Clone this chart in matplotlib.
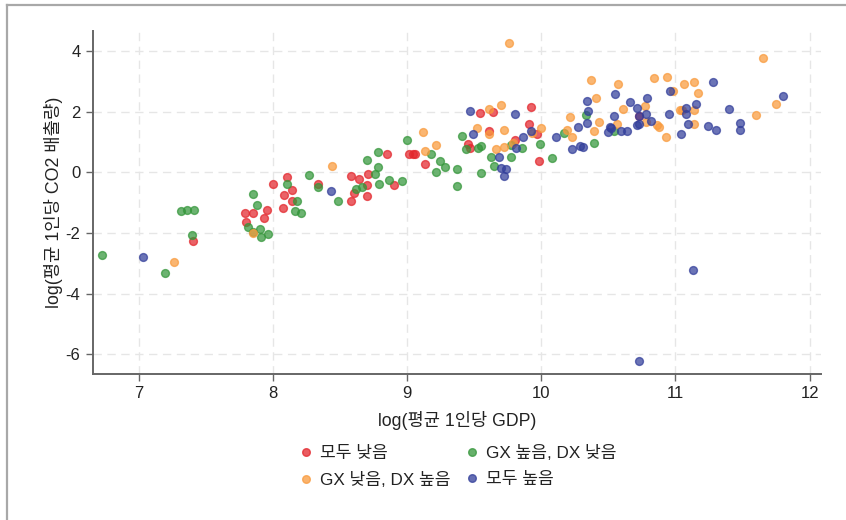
import matplotlib
matplotlib.use("Agg")
import matplotlib.pyplot as plt
from matplotlib.lines import Line2D

plt.rcParams['font.family'] = ['Liberation Sans', 'Noto Sans CJK KR', 'DejaVu Sans']
plt.rcParams['axes.unicode_minus'] = False

# ---- data ----
labels = ['모두 낮음', 'GX 낮음, DX 높음', 'GX 높음, DX 낮음', '모두 높음']

red_x = [7.40, 7.79, 7.85, 7.80, 7.95, 7.93, 8.00, 8.10, 8.08, 8.14, 8.14, 8.07, 8.33, 8.58, 8.64,
         8.60, 8.58, 8.71, 8.70, 8.70, 8.85, 8.90, 9.01, 9.04, 9.06, 9.13, 9.54, 9.64, 9.92, 9.61,
         9.45, 9.47, 9.80, 9.91, 9.97, 9.98, 10.73]
red_y = [-2.25, -1.35, -1.35, -1.62, -1.25, -1.49, -0.37, -0.15, -0.75, -0.59, -0.95, -1.18, -0.39, -0.12, -0.22,
         -0.69, -0.96, -0.07, -0.42, -0.78, 0.59, -0.40, 0.59, 0.59, 0.61, 0.26, 1.95, 1.98, 2.14, 1.38,
         0.92, 0.81, 1.07, 1.60, 1.27, 0.39, 1.85]

green_x = [6.725, 7.195, 7.31, 7.36, 7.41, 7.39, 7.85, 7.88, 7.81, 7.845, 7.90, 7.91, 7.96, 8.10, 8.18,
           8.16, 8.21, 8.27, 8.33, 8.48, 8.62, 8.66, 8.70, 8.755, 8.78, 8.78, 8.79, 8.86, 8.96, 9.00,
           9.18, 9.24, 9.28, 9.21, 9.37, 9.37, 9.41, 9.44, 9.53, 9.55, 9.77, 9.855, 9.99, 9.625, 9.77,
           9.645, 9.55, 10.08, 10.17, 10.33, 10.39, 10.54]
green_y = [-2.74, -3.32, -1.27, -1.24, -1.24, -2.05, -0.70, -1.06, -1.81, -1.95, -1.87, -2.14, -2.03, -0.37, -0.93,
           -1.26, -1.33, -0.10, -0.48, -0.94, -0.55, -0.47, 0.42, -0.07, 0.66, 0.17, -0.37, -0.25, -0.30, 1.07,
           0.59, 0.39, 0.17, 0.01, 0.10, -0.45, 1.20, 0.78, 0.81, 0.86, 0.91, 0.79, 0.93, 0.50, 0.52,
           0.22, -0.02, 0.46, 1.31, 1.89, 0.97, 1.35]

orange_x = [7.26, 7.85, 8.44, 9.12, 9.13, 9.21, 9.61, 9.70, 9.52, 9.61, 9.72, 9.66, 9.72, 9.79, 9.93,
            10.00, 9.76, 10.19, 10.21, 10.23, 10.37, 10.41, 10.39, 10.43, 10.57, 10.61, 10.77, 10.56, 10.78, 10.86,
            10.88, 10.93, 10.84, 10.94, 10.98, 11.06, 11.14, 11.17, 11.03, 11.05, 11.14, 11.14, 11.60, 11.65, 11.75]
orange_y = [-2.96, -2.01, 0.20, 1.32, 0.72, 0.90, 2.09, 2.21, 1.45, 1.25, 1.41, 0.78, 0.84, 0.96, 1.30,
            1.45, 4.26, 1.40, 1.81, 1.18, 3.05, 2.44, 1.37, 1.65, 2.91, 2.09, 2.20, 1.60, 1.67, 1.57,
            1.49, 1.15, 3.10, 3.15, 2.69, 2.91, 2.98, 2.63, 2.07, 2.07, 2.07, 1.58, 1.89, 3.77, 2.25]

blue_x = [7.03, 8.43, 9.47, 9.80, 9.49, 9.81, 9.865, 9.92, 9.68, 9.70, 9.735, 9.72, 10.11, 10.27, 10.23,
          10.29, 10.31, 10.34, 10.34, 10.35, 10.55, 10.545, 10.66, 10.71, 10.79, 10.73, 10.78, 10.51, 10.52, 10.50,
          10.595, 10.64, 10.71, 10.73, 10.82, 10.96, 11.28, 10.95, 11.08, 11.15, 11.075, 11.09, 11.04, 11.24, 11.30,
          11.40, 11.48, 11.48, 11.80, 11.13, 10.73]
blue_y = [-2.78, -0.60, 2.03, 1.91, 1.28, 0.79, 1.16, 1.38, 0.52, 0.14, 0.11, -0.11, 1.15, 1.50, 0.76,
          0.87, 0.82, 1.62, 2.35, 2.02, 2.57, 1.85, 2.33, 2.11, 2.46, 1.85, 1.92, 1.51, 1.47, 1.32,
          1.38, 1.35, 1.56, 1.60, 1.68, 2.69, 2.97, 1.94, 2.12, 2.24, 1.92, 1.58, 1.28, 1.53, 1.41,
          2.09, 1.62, 1.40, 2.53, -3.21, -6.23]

x_ticks = [7, 8, 9, 10, 11, 12]
y_ticks = [-6, -4, -2, 0, 2, 4]
x_label = 'log(평균 1인당 GDP)'
y_label = 'log(평균 1인당 CO2 배출량)'

colors = {'red': '#e3262c', 'green': '#34963a', 'orange': '#f99a3c', 'blue': '#323e9a'}

# ---- figure ----
fig = plt.figure(figsize=(8.46, 5.2), dpi=100)
ax = fig.add_axes([0.1099, 0.2817, 0.8605, 0.6587])

ax.set_xlim(6.655, 12.085)
ax.set_ylim(-6.63, 4.66)

ax.set_xticks(x_ticks)
ax.set_yticks(y_ticks)
ax.grid(True, color='#e6e6e6', linestyle=(0, (6, 4)), linewidth=1.0)
ax.set_axisbelow(True)

series = [(red_x, red_y, colors['red']),
          (green_x, green_y, colors['green']),
          (orange_x, orange_y, colors['orange']),
          (blue_x, blue_y, colors['blue'])]
for xs, ys, c in series:
    ax.scatter(xs, ys, s=32, facecolor=c, edgecolor=c, alpha=0.72, linewidth=1.0, zorder=3)

for side in ['top', 'right']:
    ax.spines[side].set_visible(False)
for side in ['left', 'bottom']:
    ax.spines[side].set_color('#666666')
    ax.spines[side].set_linewidth(1.4)

ax.tick_params(axis='both', direction='out', length=5, width=1.0, color='#666666',
               labelsize=12, labelcolor='#222222', pad=4)
ax.set_xlabel(x_label, fontsize=12.7, color='#222222', labelpad=7)
ax.set_ylabel(y_label, fontsize=12.8, color='#222222', labelpad=2)

handles = [Line2D([], [], marker='o', linestyle='none', markersize=5.5,
                  markerfacecolor=c, markeredgecolor=c, alpha=0.75)
           for c in [colors['red'], colors['orange'], colors['green'], colors['blue']]]
leg = ax.legend(handles, labels, ncol=2, loc='upper center', bbox_to_anchor=(0.5, -0.19),
                frameon=False, fontsize=12.3, handletextpad=0.3, columnspacing=0.8,
                labelspacing=0.62, handlelength=1.0, borderaxespad=0)
for t in leg.get_texts():
    t.set_color('#222222')

# partial frame border (top and left), as in the reference crop
fig.add_artist(Line2D([6.5 / 846, 6.5 / 846], [0, 1 - 5 / 520], transform=fig.transFigure,
                      color='#a8a8a8', linewidth=1.6))
fig.add_artist(Line2D([6.5 / 846, 1], [1 - 5 / 520, 1 - 5 / 520], transform=fig.transFigure,
                      color='#a8a8a8', linewidth=1.6))

fig.savefig('out.png', dpi=100)
